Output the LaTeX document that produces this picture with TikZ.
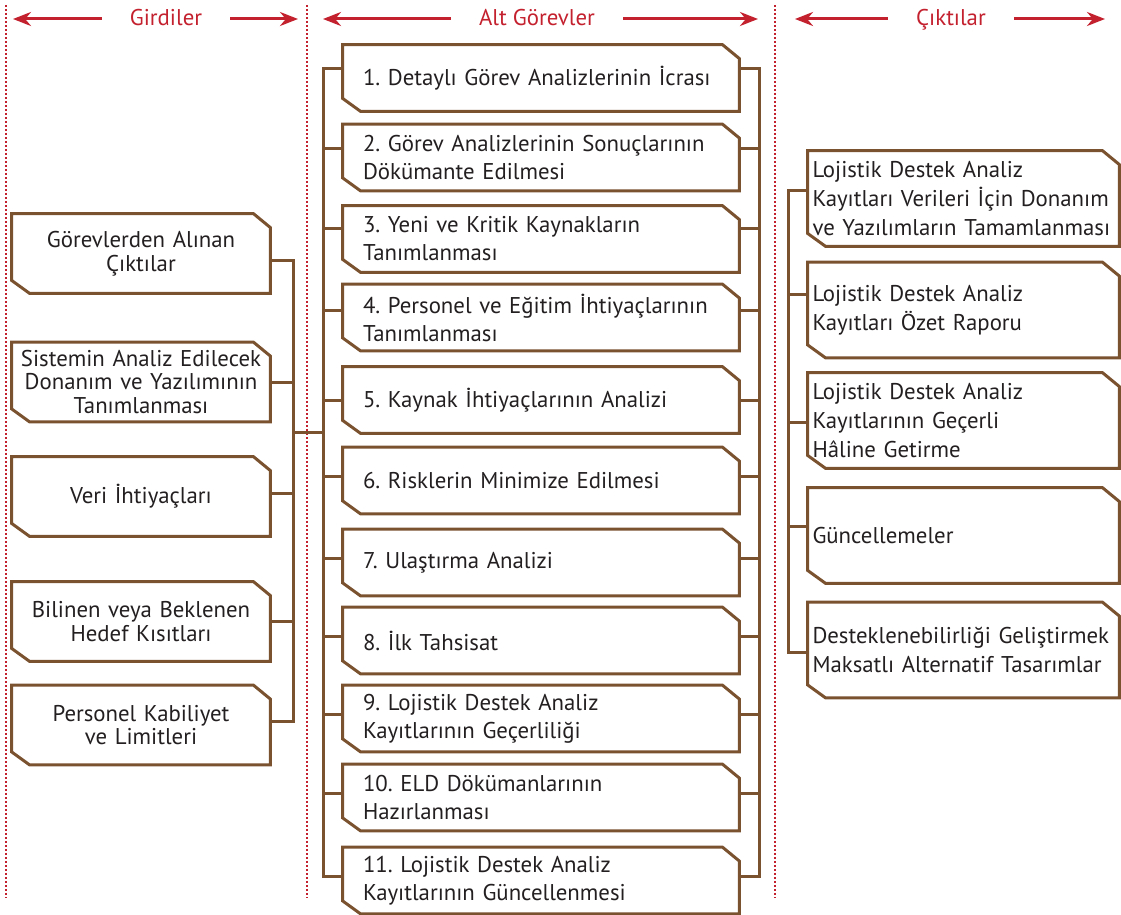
\documentclass[tikz,border=0pt]{standalone}
\usepackage{fontspec}
\setmainfont{PT Sans}
\usepackage{tikz}
\usetikzlibrary{arrows.meta, calc}
\definecolor{kahve}{HTML}{7A5230}
\definecolor{kirmizi}{HTML}{C4212F}
\definecolor{yazi}{HTML}{231F20}
\frenchspacing

\begin{document}
\begin{tikzpicture}[x=0.5pt, y=-0.5pt]
    \tikzstyle{kenar}=[draw=kahve, line width=1.5pt, line join=miter]
    \tikzstyle{kutu}=[rectangle, inner ysep=0pt, text=yazi, font=\fontsize{11.4}{14}\selectfont,
                      append after command={\pgfextra{\draw[kenar] (\tikzlastnode.north west)
                        -- ([xshift=-8.5pt]\tikzlastnode.north east) -- ([yshift=-7pt]\tikzlastnode.north east)
                        -- (\tikzlastnode.south east) -- ([xshift=9pt]\tikzlastnode.south west)
                        -- ([yshift=6.5pt]\tikzlastnode.south west) -- cycle;}}]
    \tikzstyle{gorev}=[kutu, minimum width=198pt, minimum height=33pt, align=left, text width=178pt, inner xsep=10pt]
    \tikzstyle{girdi}=[kutu, minimum width=129pt, minimum height=39.5pt, align=center, text width=125pt, inner xsep=2pt,
                       font=\fontsize{11.4}{11.9}\selectfont]
    \tikzstyle{cikti}=[kutu, minimum width=155.5pt, minimum height=47.5pt, align=left, text width=151pt, inner xsep=2.25pt,
                       font=\fontsize{11.4}{14.3}\selectfont]
    \tikzstyle{bag}=[draw=kahve, line width=1.5pt, line cap=rect]
    \tikzstyle{ayrac}=[draw=kirmizi, line width=1.2pt, dash pattern=on 1.1pt off 0.9pt]
    \tikzstyle{baslik}=[text=kirmizi, inner xsep=14pt, text height=9pt, text depth=2pt, font=\fontsize{11.4}{14}\selectfont]
    \tikzstyle{ok}=[-{Stealth[length=9pt, width=7pt]}, draw=kirmizi, line width=1.5pt]

    \useasboundingbox (0,0) rectangle (1121,915);

    \draw[ayrac] (6,5) -- (6,898);
    \draw[ayrac] (307,5) -- (307,898);
    \draw[ayrac] (775,5) -- (775,898);

    \node[baslik] (girdiler) at (166,19) {Girdiler};
    \node[baslik] (altgorev) at (537,19) {Alt Görevler};
    \node[baslik] (ciktilar) at (951,19) {Çıktılar};
    \coordinate (ucA) at (13,19);
    \coordinate (ucB) at (298,19);
    \coordinate (ucC) at (323,19);
    \coordinate (ucD) at (758,19);
    \coordinate (ucE) at (795,19);
    \coordinate (ucF) at (1105,19);
    \draw[ok] (girdiler.west) -- (ucA);
    \draw[ok] (girdiler.east) -- (ucB);
    \draw[ok] (altgorev.west) -- (ucC);
    \draw[ok] (altgorev.east) -- (ucD);
    \draw[ok] (ciktilar.west) -- (ucE);
    \draw[ok] (ciktilar.east) -- (ucF);

    \coordinate (girdiomurga) at (293,0);
    \coordinate (solomurga) at (323,0);
    \coordinate (sagomurga) at (759,0);
    \coordinate (ciktiomurga) at (788,0);
    \coordinate (kavsak) at (293,432);

    \node[gorev] (g1)  at (541,78)    {1. Detaylı Görev Analizlerinin İcrası};
    \node[gorev] (g2)  at (541,157.5) {2. Görev Analizlerinin Sonuçlarının\\Dökümante Edilmesi};
    \node[gorev] (g3)  at (541,239)   {3. Yeni ve Kritik Kaynakların\\Tanımlanması};
    \node[gorev] (g4)  at (541,317.5) {4. Personel ve Eğitim İhtiyaçlarının\\Tanımlanması};
    \node[gorev] (g5)  at (541,400)   {5. Kaynak İhtiyaçlarının Analizi};
    \node[gorev] (g6)  at (541,480.5) {6. Risklerin Minimize Edilmesi};
    \node[gorev] (g7)  at (541,562.5) {7. Ulaştırma Analizi};
    \node[gorev] (g8)  at (541,640.5) {8. İlk Tahsisat};
    \node[gorev] (g9)  at (541,718.5) {9. Lojistik Destek Analiz\\Kayıtlarının Geçerliliği};
    \node[gorev] (g10) at (541,797.5) {10. ELD Dökümanlarının\\Hazırlanması};
    \node[gorev] (g11) at (541,880.5) {11. Lojistik Destek Analiz\\Kayıtlarının Güncellenmesi};

    \node[girdi] (i1) at (141,253.5) {Görevlerden Alınan\\Çıktılar};
    \node[girdi] (i2) at (141,382)   {Sistemin Analiz Edilecek\\Donanım ve Yazılımının\\Tanımlanması};
    \node[girdi] (i3) at (141,496.5) {Veri İhtiyaçları};
    \node[girdi] (i4) at (141,621.5) {Bilinen veya Beklenen\\Hedef Kısıtları};
    \node[girdi] (i5) at (141,725)   {Personel Kabiliyet\\ve Limitleri};

    \node[cikti] (c1) at (963.5,198.5) {Lojistik Destek Analiz\\Kayıtları Verileri İçin Donanım\\ve Yazılımların Tamamlanması};
    \node[cikti] (c2) at (963.5,310)   {Lojistik Destek Analiz\\Kayıtları Özet Raporu};
    \node[cikti] (c3) at (963.5,420.5) {Lojistik Destek Analiz\\Kayıtlarının Geçerli\\Hâline Getirme};
    \node[cikti] (c4) at (963.5,535.5) {Güncellemeler};
    \node[cikti] (c5) at (963.5,650)   {Desteklenebilirliği Geliştirmek\\Maksatlı Alternatif Tasarımlar};

    \draw[bag] ([yshift=4.5pt]g1.west -| solomurga) -- ([yshift=2pt]g11.west -| solomurga);
    \draw[bag] ([yshift=4.5pt]g1.east -| sagomurga) -- ([yshift=2pt]g11.east -| sagomurga);
    \draw[bag] ([yshift=4.5pt]g1.west) -- ([yshift=4.5pt]g1.west -| solomurga);
    \draw[bag] ([yshift=4.5pt]g1.east) -- ([yshift=4.5pt]g1.east -| sagomurga);
    \draw[bag] ([yshift=4.5pt]g2.west) -- ([yshift=4.5pt]g2.west -| solomurga);
    \draw[bag] ([yshift=4.5pt]g2.east) -- ([yshift=4.5pt]g2.east -| sagomurga);
    \draw[bag] ([yshift=5pt]g3.west) -- ([yshift=5pt]g3.west -| solomurga);
    \draw[bag] ([yshift=5pt]g3.east) -- ([yshift=5pt]g3.east -| sagomurga);
    \draw[bag] ([yshift=3.5pt]g4.west) -- ([yshift=3.5pt]g4.west -| solomurga);
    \draw[bag] ([yshift=3.5pt]g4.east) -- ([yshift=3.5pt]g4.east -| sagomurga);
    \draw[bag] (g5.west) -- (g5.west -| solomurga);
    \draw[bag] (g5.east) -- (g5.east -| sagomurga);
    \draw[bag] ([yshift=2pt]g6.west) -- ([yshift=2pt]g6.west -| solomurga);
    \draw[bag] ([yshift=2pt]g6.east) -- ([yshift=2pt]g6.east -| sagomurga);
    \draw[bag] ([yshift=2pt]g7.west) -- ([yshift=2pt]g7.west -| solomurga);
    \draw[bag] ([yshift=2pt]g7.east) -- ([yshift=2pt]g7.east -| sagomurga);
    \draw[bag] ([yshift=2pt]g8.west) -- ([yshift=2pt]g8.west -| solomurga);
    \draw[bag] ([yshift=2pt]g8.east) -- ([yshift=2pt]g8.east -| sagomurga);
    \draw[bag] ([yshift=2pt]g9.west) -- ([yshift=2pt]g9.west -| solomurga);
    \draw[bag] ([yshift=2pt]g9.east) -- ([yshift=2pt]g9.east -| sagomurga);
    \draw[bag] ([yshift=2pt]g10.west) -- ([yshift=2pt]g10.west -| solomurga);
    \draw[bag] ([yshift=2pt]g10.east) -- ([yshift=2pt]g10.east -| sagomurga);
    \draw[bag] ([yshift=2pt]g11.west) -- ([yshift=2pt]g11.west -| solomurga);
    \draw[bag] ([yshift=2pt]g11.east) -- ([yshift=2pt]g11.east -| sagomurga);

    \draw[bag] ([yshift=-3.75pt]i1.east -| girdiomurga) -- ([yshift=2pt]i5.east -| girdiomurga);
    \draw[bag] ([yshift=-3.75pt]i1.east) -- ([yshift=-3.75pt]i1.east -| girdiomurga);
    \draw[bag] (i2.east) -- (i2.east -| girdiomurga);
    \draw[bag] ([yshift=1.75pt]i3.east) -- ([yshift=1.75pt]i3.east -| girdiomurga);
    \draw[bag] (i4.east) -- (i4.east -| girdiomurga);
    \draw[bag] ([yshift=2pt]i5.east) -- ([yshift=2pt]i5.east -| girdiomurga);
    \draw[bag] (kavsak) -- (kavsak -| solomurga);

    \draw[bag] ([yshift=3.75pt]c1.west -| ciktiomurga) -- ([yshift=-1pt]c5.west -| ciktiomurga);
    \draw[bag] ([yshift=3.75pt]c1.west) -- ([yshift=3.75pt]c1.west -| ciktiomurga);
    \draw[bag] ([yshift=7.5pt]c2.west) -- ([yshift=7.5pt]c2.west -| ciktiomurga);
    \draw[bag] ([yshift=-1pt]c3.west) -- ([yshift=-1pt]c3.west -| ciktiomurga);
    \draw[bag] ([yshift=4.5pt]c4.west) -- ([yshift=4.5pt]c4.west -| ciktiomurga);
    \draw[bag] ([yshift=-1pt]c5.west) -- ([yshift=-1pt]c5.west -| ciktiomurga);
\end{tikzpicture}
\end{document}
